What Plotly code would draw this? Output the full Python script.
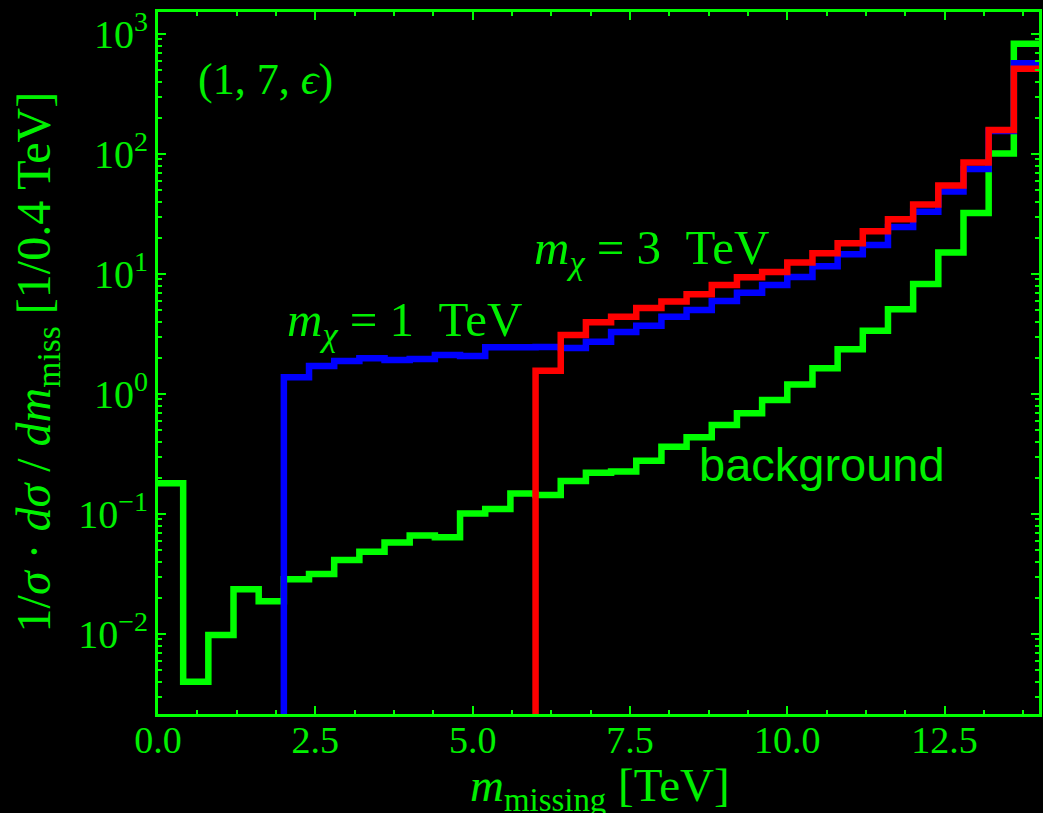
import plotly.graph_objects as go

# ---------------- data ----------------
bin_width = 0.4
n_bins = 35
bin_edges = [round(i * bin_width, 1) for i in range(n_bins + 1)]

background = [0.18, 0.0040, 0.0098, 0.0236, 0.0187, 0.0286, 0.0316, 0.0414, 0.0485, 0.0577,
              0.066, 0.064, 0.101, 0.110, 0.148, 0.144, 0.188, 0.220, 0.226, 0.277,
              0.364, 0.435, 0.552, 0.69, 0.89, 1.20, 1.64, 2.36, 3.37, 5.07,
              8.25, 15.1, 32.2, 101.0, 830.0]

signal_1tev = [0, 0, 0, 0, 0, 1.38, 1.71, 1.88, 1.98, 1.92,
               1.96, 2.11, 2.07, 2.45, 2.45, 2.46, 2.42, 2.72, 3.28, 3.70,
               4.4, 5.0, 5.95, 6.98, 8.1, 9.45, 11.6, 14.6, 17.4, 24.6,
               33.0, 48.6, 75.0, 155.0, 570.0]

signal_3tev = [0, 0, 0, 0, 0, 0, 0, 0, 0, 0,
               0, 0, 0, 0, 0, 1.56, 3.1, 3.96, 4.4, 5.2,
               5.9, 6.77, 8.1, 9.38, 10.4, 12.45, 14.9, 18.0, 22.7, 28.6,
               38.0, 54.6, 85.0, 158.0, 514.0]

x_tick_vals = [0.0, 2.5, 5.0, 7.5, 10.0, 12.5]
x_tick_text = ["0.0", "2.5", "5.0", "7.5", "10.0", "12.5"]
y_tick_vals = [1e-2, 1e-1, 1e0, 1e1, 1e2, 1e3]
y_tick_text = ["10<sup>\u22122</sup>", "10<sup>\u22121</sup>", "10<sup>0</sup>",
               "10<sup>1</sup>", "10<sup>2</sup>", "10<sup>3</sup>"]

# ---------------- style ----------------
LIME = "#00ff00"
TEXT = "#00f000"
SERIF = "Liberation Serif"
SANS = "Liberation Sans"
W, H = 1043, 813
ML, MR, MT, MB = 158, 1, 12, 99
FLOOR = 1e-9  # empty bins drawn below the axis like a step histogram


def step_xy(values):
    ys = [v if v > 0 else FLOOR for v in values]
    return bin_edges, ys + [ys[-1]]


fig = go.Figure()
for vals, col in [(background, LIME), (signal_1tev, "#0000ff"), (signal_3tev, "#ff0000")]:
    xs, ys = step_xy(vals)
    fig.add_trace(go.Scatter(x=xs, y=ys, mode="lines", line=dict(shape="hv", color=col, width=6.5),
                             showlegend=False, hoverinfo="skip"))

minor_y = [m * 10 ** e for e in range(-3, 4) for m in range(2, 10)]

fig.update_xaxes(range=[0, 14], tickmode="array", tickvals=x_tick_vals, ticktext=x_tick_text,
                 ticks="inside", ticklen=8, tickwidth=2, tickcolor=LIME,
                 showline=True, linecolor=LIME, linewidth=3, mirror="allticks",
                 showgrid=False, zeroline=False,
                 tickfont=dict(family=SERIF, size=38, color=TEXT), ticklabelstandoff=-10,
                 minor=dict(tickmode="linear", tick0=0, dtick=0.625, ticks="inside", ticklen=4,
                            tickwidth=1.5, tickcolor=LIME, showgrid=False))
fig.update_yaxes(type="log", range=[-2.667, 3.183], tickmode="array", tickvals=y_tick_vals,
                 ticktext=y_tick_text, ticks="inside", ticklen=8, tickwidth=2, tickcolor=LIME,
                 showline=True, linecolor=LIME, linewidth=3, mirror="allticks",
                 showgrid=False, zeroline=False,
                 tickfont=dict(family=SERIF, size=40, color=TEXT), ticklabelstandoff=-1,
                 minor=dict(tickmode="array", tickvals=minor_y, ticks="inside", ticklen=4,
                            tickwidth=1.5, tickcolor=LIME, showgrid=False))


def px(xp):
    return (xp - ML) / (W - ML - MR)


def py(yp):
    return (H - MB - yp) / (H - MT - MB)


annots = [
    dict(text="(1, 7, <i>\u03f5</i>)", x=px(196), y=py(79), xanchor="left", yanchor="middle",
         font=dict(family=SERIF, size=44, color=TEXT)),
    dict(text="<i>m</i><sub><i>\u03c7</i></sub> = 1  TeV", x=px(285), y=py(322), xanchor="left",
         yanchor="middle", font=dict(family=SERIF, size=49, color=TEXT)),
    dict(text="<i>m</i><sub><i>\u03c7</i></sub> = 3  TeV", x=px(533), y=py(250), xanchor="left",
         yanchor="middle", font=dict(family=SERIF, size=49, color=TEXT)),
    dict(text="background", x=px(699), y=py(465), xanchor="left", yanchor="middle",
         font=dict(family=SANS, size=47, color=TEXT)),
    dict(text="<i>m</i><sub>missing</sub> [TeV]", x=px(602), y=py(788), xanchor="center",
         yanchor="middle", font=dict(family=SERIF, size=47, color=TEXT)),
    dict(text="1/<i>\u03c3</i> \u00b7 <i>d\u03c3</i> / <i>dm</i><sub>miss</sub> [1/0.4 TeV]",
         x=px(37), y=py(362), xanchor="center", yanchor="middle", textangle=-90,
         font=dict(family=SERIF, size=48, color=TEXT)),
]
for a in annots:
    fig.add_annotation(xref="paper", yref="paper", showarrow=False, **a)

fig.update_layout(width=W, height=H, margin=dict(l=ML, r=MR, t=MT, b=MB),
                  paper_bgcolor="black", plot_bgcolor="black")

fig.write_html("out.html", config={"displayModeBar": False},
               post_script="document.body.style.margin='0';document.body.style.background='black';")
